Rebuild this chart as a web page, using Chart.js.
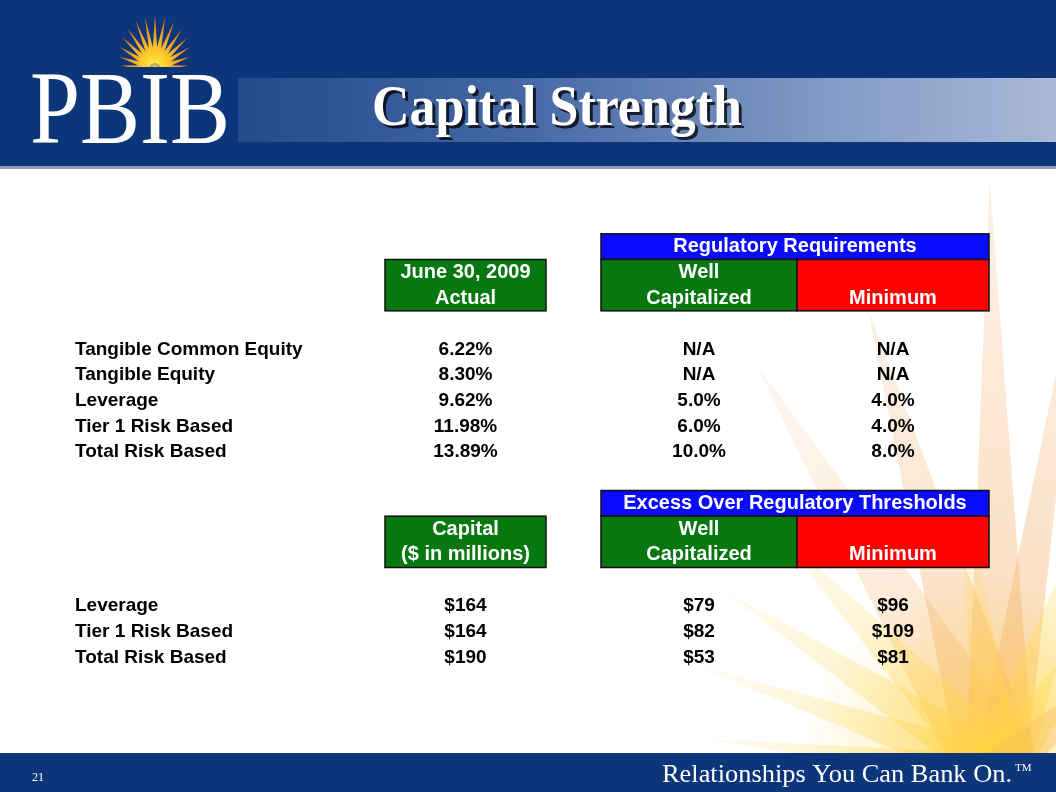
<!DOCTYPE html>
<html>
<head>
<meta charset="utf-8">
<script src="https://cdn.jsdelivr.net/npm/chart.js@4/dist/chart.umd.min.js"></script>
<style>
  html, body { margin: 0; padding: 0; background: #fff; }
  canvas { display: block; }
</style>
</head>
<body>
<canvas id="slide" width="1056" height="792"></canvas>
<script>
// ---- slide text ----
const slideTitle = "Capital Strength";
const logoText = "PBIB";
const pageNumber = "21";
const tagline = "Relationships You Can Bank On.";

// ---- regulatory ratios ----
const ratioRows = ["Tangible Common Equity", "Tangible Equity", "Leverage", "Tier 1 Risk Based", "Total Risk Based"];
const ratioActual = [6.22, 8.30, 9.62, 11.98, 13.89];
const ratioWellCap = [null, null, 5.0, 6.0, 10.0];
const ratioMinimum = [null, null, 4.0, 4.0, 8.0];
const ratioGroupTitle = "Regulatory Requirements";
const ratioColumnTitles = [["June 30, 2009", "Actual"], ["Well", "Capitalized"], ["", "Minimum"]];

// ---- capital excess ($ millions) ----
const capitalRows = ["Leverage", "Tier 1 Risk Based", "Total Risk Based"];
const capitalActual = [164, 164, 190];
const excessWellCap = [79, 82, 53];
const excessMinimum = [96, 109, 81];
const capitalGroupTitle = "Excess Over Regulatory Thresholds";
const capitalColumnTitles = [["Capital", "($ in millions)"], ["Well", "Capitalized"], ["", "Minimum"]];

// layout in scale units (x: columns, y: rows)
const COL = { label: 0, actual: 3.905, well: 6.24, min: 8.18 };
const BOX = [[3.10, 4.71], [5.26, 7.22], [7.22, 9.14]];
const BLOCK1_ROW = 0;
const BLOCK2_ROW = 10;

const NAVY = "#0d357a";
const GREEN = "#07780f";
const RED = "#ff0000";
const BLUE = "#0a0aff";
const SANS = '"Liberation Sans", Arial, sans-serif';
const SERIF = '"Liberation Serif", "Times New Roman", serif';

const pct = (v, d) => v == null ? "N/A" : v.toFixed(d) + "%";
const usd = v => "$" + v;

function cellSet(texts, col, startRow, align) {
  return {
    data: texts.map((t, i) => ({ x: COL[col], y: startRow + i })),
    texts: texts,
    align: align || "center",
    pointRadius: 0
  };
}

const datasets = [
  cellSet(ratioRows, "label", BLOCK1_ROW, "left"),
  cellSet(ratioActual.map(v => pct(v, 2)), "actual", BLOCK1_ROW),
  cellSet(ratioWellCap.map(v => pct(v, 1)), "well", BLOCK1_ROW),
  cellSet(ratioMinimum.map(v => pct(v, 1)), "min", BLOCK1_ROW),
  cellSet(capitalRows, "label", BLOCK2_ROW, "left"),
  cellSet(capitalActual.map(usd), "actual", BLOCK2_ROW),
  cellSet(excessWellCap.map(usd), "well", BLOCK2_ROW),
  cellSet(excessMinimum.map(usd), "min", BLOCK2_ROW)
];

// fan of wedge-shaped spikes: base of half-width bw (px) at the centre, tip at len
function spikes(ctx, cx, cy, rays) {
  rays.forEach(r => {
    const a = r.a * Math.PI / 180;
    const tx = cx + Math.cos(a) * r.len, ty = cy + Math.sin(a) * r.len;
    const bx = cx + Math.cos(a) * (r.r0 || 0), by = cy + Math.sin(a) * (r.r0 || 0);
    const nx = -Math.sin(a) * r.bw, ny = Math.cos(a) * r.bw;
    const g = ctx.createLinearGradient(bx, by, tx, ty);
    g.addColorStop(0, r.c0);
    g.addColorStop(1, r.c1);
    ctx.fillStyle = g;
    ctx.beginPath();
    ctx.moveTo(bx + nx, by + ny);
    ctx.lineTo(tx, ty);
    ctx.lineTo(bx - nx, by - ny);
    ctx.closePath();
    ctx.fill();
  });
}

function fitText(ctx, text, x, y, width) {
  const m = ctx.measureText(text).width;
  ctx.save();
  ctx.translate(x, y);
  ctx.scale(width / m, 1);
  ctx.fillText(text, 0, 0);
  ctx.restore();
}

const slideFrame = {
  id: "slideFrame",
  beforeDraw(chart) {
    const ctx = chart.ctx;
    ctx.save();
    ctx.fillStyle = "#fff";
    ctx.fillRect(0, 0, 1056, 792);

    // faint background sunburst behind the table
    const or0 = "rgba(246,172,90,0.50)", or1 = "rgba(246,200,160,0.25)";
    const ye0 = "rgba(255,206,50,0.50)", ye1 = "rgba(255,228,140,0.12)";
    spikes(ctx, 1000, 770, [
      { a: -91, len: 590, bw: 34, c0: or0, c1: or1 },
      { a: -106, len: 480, bw: 40, c0: or0, c1: or1 },
      { a: -121, len: 475, bw: 42, c0: "rgba(246,172,90,0.40)", c1: "rgba(246,205,170,0.16)" },
      { a: -81, len: 540, bw: 26, c0: or0, c1: or1 },
      { a: -133, len: 330, bw: 30, c0: ye0, c1: ye1 },
      { a: -147, len: 330, bw: 26, c0: ye0, c1: ye1 },
      { a: -161, len: 320, bw: 22, c0: ye0, c1: ye1 },
      { a: -174, len: 300, bw: 16, c0: ye0, c1: ye1 },
      { a: -98, len: 300, bw: 24, c0: ye0, c1: ye1 },
      { a: -70, len: 330, bw: 28, c0: ye0, c1: ye1 },
      { a: -55, len: 260, bw: 26, c0: ye0, c1: ye1 },
      { a: -40, len: 220, bw: 22, c0: or0, c1: or1 }
    ]);
    const glow = ctx.createRadialGradient(990, 770, 0, 990, 770, 190);
    glow.addColorStop(0, "rgba(255,214,80,0.55)");
    glow.addColorStop(1, "rgba(255,214,80,0)");
    ctx.fillStyle = glow;
    ctx.fillRect(790, 570, 266, 190);

    // header
    ctx.fillStyle = NAVY;
    ctx.fillRect(0, 0, 1056, 166);
    const band = ctx.createLinearGradient(238, 0, 1056, 0);
    band.addColorStop(0, "#24498d");
    band.addColorStop(0.35, "#4568a5");
    band.addColorStop(0.7, "#7f98c4");
    band.addColorStop(1, "#a9b9d6");
    ctx.fillStyle = band;
    ctx.fillRect(238, 78, 818, 64);
    ctx.fillStyle = "#8d9bb2";
    ctx.fillRect(0, 166, 1056, 3);

    // logo sunburst
    const angles = [-174, -161, -148, -136, -124, -112, -101, -90, -79, -68, -56, -44, -32, -19, -6];
    const lens = [34, 38, 42, 46, 49, 52, 53, 54, 53, 51, 48, 45, 41, 37, 33];
    const rays = angles.map((a, i) => ({ a: a, len: lens[i], bw: 3.2, r0: 6, c0: "#ffe436", c1: "#ea7414" }));
    spikes(ctx, 155, 69, rays);
    const sun = ctx.createRadialGradient(155, 69, 0, 155, 69, 18);
    sun.addColorStop(0, "rgba(255,240,90,0.95)");
    sun.addColorStop(1, "rgba(255,200,40,0)");
    ctx.fillStyle = sun;
    ctx.fillRect(135, 50, 40, 19);
    ctx.fillStyle = NAVY;
    ctx.fillRect(105, 67, 105, 11);

    // logo letters
    ctx.fillStyle = "#fff";
    ctx.textBaseline = "alphabetic";
    ctx.textAlign = "left";
    ctx.font = "104px " + SERIF;
    fitText(ctx, logoText, 30, 143, 200);

    // title with shadow
    ctx.font = "bold 56px " + SERIF;
    ctx.fillStyle = "rgba(0,0,0,0.75)";
    fitText(ctx, slideTitle, 375, 128, 370);
    ctx.fillStyle = "#fff";
    fitText(ctx, slideTitle, 372, 125, 370);

    // footer
    ctx.fillStyle = NAVY;
    ctx.fillRect(0, 753, 1056, 39);
    ctx.fillStyle = "#fff";
    ctx.font = "12px " + SERIF;
    ctx.fillText(pageNumber, 32, 781);
    ctx.font = "25px " + SERIF;
    fitText(ctx, tagline, 662, 782, 350);
    ctx.font = "11px " + SERIF;
    ctx.fillText("TM", 1015, 771);
    ctx.restore();
  }
};

function drawHeader(chart, startRow, groupTitle, colTitles) {
  const ctx = chart.ctx;
  const px = v => chart.scales.x.getPixelForValue(v);
  const py = v => chart.scales.y.getPixelForValue(v);
  const fills = [GREEN, GREEN, RED];
  ctx.save();
  ctx.lineWidth = 1.5;
  ctx.strokeStyle = "#111";
  // group band over the two requirement columns
  ctx.fillStyle = BLUE;
  ctx.fillRect(px(BOX[1][0]), py(startRow - 4.5), px(BOX[2][1]) - px(BOX[1][0]), py(startRow - 3.5) - py(startRow - 4.5));
  ctx.strokeRect(px(BOX[1][0]), py(startRow - 4.5), px(BOX[2][1]) - px(BOX[1][0]), py(startRow - 3.5) - py(startRow - 4.5));
  BOX.forEach((b, i) => {
    const x0 = px(b[0]), x1 = px(b[1]);
    const y0 = py(startRow - 3.5), y1 = py(startRow - 1.5);
    ctx.fillStyle = fills[i];
    ctx.fillRect(x0, y0, x1 - x0, y1 - y0);
    ctx.strokeRect(x0, y0, x1 - x0, y1 - y0);
  });
  ctx.fillStyle = "#fff";
  ctx.textAlign = "center";
  ctx.textBaseline = "middle";
  ctx.font = "bold 20px " + SANS;
  ctx.fillText(groupTitle, (px(BOX[1][0]) + px(BOX[2][1])) / 2, py(startRow - 4));
  colTitles.forEach((lines, i) => {
    const cx = (px(BOX[i][0]) + px(BOX[i][1])) / 2;
    ctx.fillText(lines[0], cx, py(startRow - 3));
    ctx.fillText(lines[1], cx, py(startRow - 2));
  });
  ctx.restore();
}

const tableHeaders = {
  id: "tableHeaders",
  beforeDatasetsDraw(chart) {
    drawHeader(chart, BLOCK1_ROW, ratioGroupTitle, ratioColumnTitles);
    drawHeader(chart, BLOCK2_ROW, capitalGroupTitle, capitalColumnTitles);
  }
};

const cellText = {
  id: "cellText",
  afterDatasetsDraw(chart) {
    const ctx = chart.ctx;
    ctx.save();
    ctx.fillStyle = "#000";
    ctx.textBaseline = "middle";
    ctx.font = "bold 19px " + SANS;
    chart.data.datasets.forEach((ds, i) => {
      const meta = chart.getDatasetMeta(i);
      ctx.textAlign = ds.align;
      meta.data.forEach((pt, j) => ctx.fillText(ds.texts[j], pt.x, pt.y));
    });
    ctx.restore();
  }
};

new Chart(document.getElementById("slide"), {
  type: "scatter",
  data: { datasets: datasets },
  options: {
    responsive: false,
    animation: false,
    layout: { padding: { left: 75, right: 67, top: 221, bottom: 109 } },
    scales: {
      x: { type: "linear", min: 0, max: 9.14, display: false },
      y: { type: "linear", min: -5, max: 13, reverse: true, display: false }
    },
    plugins: {
      legend: { display: false },
      tooltip: { enabled: false }
    }
  },
  plugins: [slideFrame, tableHeaders, cellText]
});
</script>
</body>
</html>
